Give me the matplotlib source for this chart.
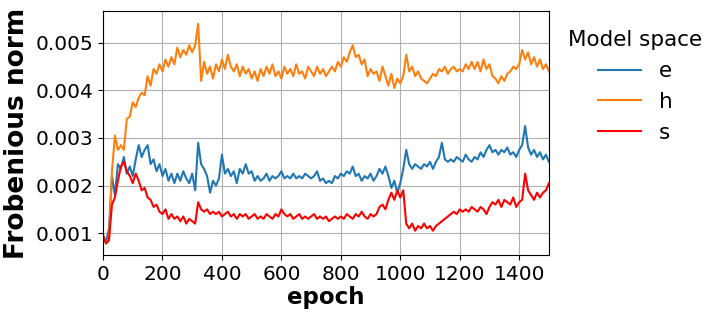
import numpy as np
import matplotlib
matplotlib.use("Agg")
import matplotlib.pyplot as plt

# Frobenius norm per model space, sampled every 10 epochs (values in 1e-3)
epochs = np.arange(0, 1501, 10)

norm_e = [
    0.95, 0.80, 1.10, 2.20, 1.80, 2.45, 2.35, 2.60, 2.25, 2.40,
    2.20, 2.55, 2.85, 2.60, 2.75, 2.85, 2.45, 2.55, 2.30, 2.45,
    2.20, 2.35, 2.10, 2.25, 2.05, 2.25, 2.10, 2.30, 2.15, 2.05,
    2.25, 1.90, 2.90, 2.45, 2.35, 2.20, 1.85, 2.10, 2.00, 2.15,
    2.65, 2.25, 2.35, 2.20, 2.30, 2.05, 2.35, 2.25, 2.45, 2.25,
    2.30, 2.10, 2.20, 2.10, 2.15, 2.25, 2.10, 2.20, 2.15, 2.20,
    2.30, 2.15, 2.20, 2.15, 2.25, 2.15, 2.20, 2.15, 2.25, 2.20,
    2.15, 2.20, 2.30, 2.10, 2.15, 2.05, 2.10, 2.05, 2.20, 2.15,
    2.25, 2.20, 2.30, 2.25, 2.40, 2.20, 2.25, 2.10, 2.20, 2.15,
    2.25, 2.10, 2.20, 2.35, 2.25, 2.40, 2.20, 1.95, 2.10, 1.85,
    2.05, 2.35, 2.75, 2.45, 2.35, 2.45, 2.40, 2.35, 2.45, 2.40,
    2.50, 2.35, 2.50, 2.60, 2.90, 2.55, 2.50, 2.55, 2.50, 2.60,
    2.55, 2.50, 2.65, 2.55, 2.50, 2.60, 2.55, 2.70, 2.60, 2.75,
    2.85, 2.70, 2.75, 2.65, 2.75, 2.70, 2.80, 2.65, 2.70, 2.60,
    2.75, 2.85, 3.25, 2.80, 2.65, 2.75, 2.60, 2.70, 2.55, 2.65,
    2.50,
]

norm_h = [
    0.95, 0.80, 0.85, 2.30, 3.05, 2.75, 2.85, 2.75, 3.40, 3.45,
    3.75, 3.65, 3.85, 3.95, 3.90, 4.30, 4.10, 4.45, 4.35, 4.55,
    4.40, 4.65, 4.50, 4.70, 4.55, 4.90, 4.70, 4.85, 4.75, 4.95,
    4.80, 4.95, 5.40, 4.20, 4.60, 4.35, 4.50, 4.25, 4.55, 4.40,
    4.65, 4.45, 4.75, 4.50, 4.40, 4.55, 4.30, 4.50, 4.35, 4.45,
    4.25, 4.40, 4.20, 4.45, 4.30, 4.50, 4.35, 4.55, 4.30, 4.40,
    4.25, 4.50, 4.35, 4.45, 4.30, 4.55, 4.35, 4.40, 4.25, 4.50,
    4.40, 4.30, 4.50, 4.35, 4.45, 4.30, 4.40, 4.50, 4.40, 4.60,
    4.50, 4.70, 4.60, 4.80, 4.95, 4.70, 4.75, 4.55, 4.65, 4.30,
    4.45, 4.35, 4.40, 4.20, 4.50, 4.30, 4.10, 4.35, 4.05, 4.25,
    4.15, 4.30, 4.75, 4.40, 4.50, 4.30, 4.40, 4.25, 4.20, 4.15,
    4.25, 4.35, 4.30, 4.45, 4.40, 4.50, 4.35, 4.45, 4.50, 4.40,
    4.45, 4.40, 4.55, 4.45, 4.60, 4.45, 4.60, 4.40, 4.65, 4.45,
    4.55, 4.30, 4.25, 4.15, 4.30, 4.20, 4.35, 4.40, 4.50, 4.45,
    4.55, 4.85, 4.65, 4.80, 4.55, 4.70, 4.50, 4.65, 4.45, 4.55,
    4.40,
]

norm_s = [
    0.95, 0.78, 0.85, 1.60, 1.75, 2.10, 2.40, 2.50, 2.30, 2.20,
    2.05, 2.25, 2.10, 1.90, 1.95, 1.75, 1.70, 1.55, 1.60, 1.45,
    1.40, 1.50, 1.30, 1.40, 1.30, 1.35, 1.25, 1.35, 1.20, 1.30,
    1.25, 1.20, 1.65, 1.50, 1.45, 1.50, 1.40, 1.45, 1.40, 1.45,
    1.35, 1.40, 1.45, 1.35, 1.40, 1.30, 1.40, 1.35, 1.40, 1.30,
    1.35, 1.40, 1.30, 1.35, 1.30, 1.40, 1.35, 1.30, 1.40, 1.35,
    1.50, 1.40, 1.35, 1.40, 1.30, 1.35, 1.40, 1.30, 1.35, 1.30,
    1.35, 1.40, 1.30, 1.35, 1.30, 1.35, 1.25, 1.30, 1.35, 1.30,
    1.35, 1.30, 1.40, 1.35, 1.30, 1.40, 1.35, 1.45, 1.35, 1.30,
    1.40, 1.35, 1.40, 1.55, 1.60, 1.50, 1.70, 1.85, 1.70, 1.90,
    1.75, 1.90, 1.20, 1.10, 1.20, 1.05, 1.15, 1.10, 1.20, 1.10,
    1.15, 1.05, 1.15, 1.20, 1.25, 1.30, 1.35, 1.40, 1.45, 1.40,
    1.50, 1.45, 1.50, 1.45, 1.55, 1.50, 1.45, 1.55, 1.50, 1.40,
    1.55, 1.65, 1.60, 1.70, 1.55, 1.70, 1.65, 1.60, 1.75, 1.55,
    1.65, 1.70, 2.25, 1.90, 1.80, 1.70, 1.85, 1.75, 1.85, 1.90,
    2.05,
]

series = [("e", norm_e, "#1f77b4"), ("h", norm_h, "#ff7f0e"), ("s", norm_s, "red")]

fig = plt.figure(figsize=(7.18, 3.17), dpi=100)
ax = fig.add_axes([0.1435, 0.1956, 0.621, 0.7697])

for name, vals, col in series:
    ax.plot(epochs, np.array(vals) * 1e-3, color=col, linewidth=1.5, label=name)

ax.set_xlim(0, 1500)
ax.set_ylim(0.00054, 0.00567)
ax.set_xticks(np.arange(0, 1401, 200))
ax.set_yticks([0.001, 0.002, 0.003, 0.004, 0.005])
ax.tick_params(labelsize=14.5)
ax.grid(True, color="#b0b0b0", linewidth=0.8)
ax.set_axisbelow(True)

ax.set_xlabel("epoch", fontsize=16.5, fontweight="bold", labelpad=2)
ax.set_ylabel("Frobenious norm", fontsize=19, fontweight="bold", labelpad=4)

leg = ax.legend(title="Model space", loc="upper left", bbox_to_anchor=(1.0, 1.0),
                frameon=False, fontsize=15.5, title_fontsize=15.5)

fig.savefig("out.png", dpi=100)
